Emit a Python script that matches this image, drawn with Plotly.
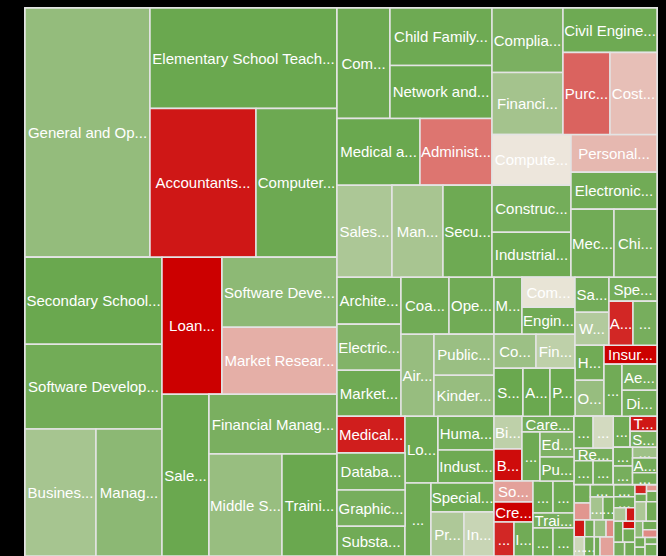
import plotly.graph_objects as go

# ---- named tiles ----
jobs = [
    "General and Operations Managers", "Elementary School Teachers", "Accountants and Auditors",
    "Computer Systems Analysts", "Secondary School Teachers", "Software Developers",
    "Business Operations Specialists", "Management Analysts", "Loan Officers",
    "Software Developers, Applications", "Market Research Analysts", "Sales Managers",
    "Financial Managers", "Middle School Teachers", "Training and Development Specialists",
    "Computer and Information Systems Managers", "Child, Family, and School Social Workers",
    "Network and Computer Systems Administrators", "Medical and Health Services Managers",
    "Administrative Services Managers", "Sales Representatives", "Managers, All Other",
    "Securities Sales Agents", "Compliance Officers", "Financial Analysts", "Civil Engineers",
    "Purchasing Agents", "Cost Estimators", "Computer Programmers", "Construction Managers",
    "Industrial Engineers", "Personal Financial Advisors", "Electronics Engineers",
    "Mechanical Engineers", "Chief Executives",
    "Architects", "Electrical Engineers", "Marketing Managers", "Coaches and Scouts",
    "Operations Research Analysts", "Airline Pilots", "Public Relations Specialists",
    "Kindergarten Teachers", "Medical Scientists", "Database Administrators", "Graphic Designers",
    "Substance Abuse Counselors", "Logisticians", "Human Resources Specialists",
    "Industrial Production Managers", "Lawyers", "Special Education Teachers",
    "Producers and Directors", "Interpreters and Translators",
    "Mathematicians", "Computer Hardware Engineers", "Engineering Managers", "Copywriters",
    "Financial Examiners", "Statisticians", "Actuaries", "Pharmacists", "Sales Engineers",
    "Web Developers", "Speech-Language Pathologists", "Auditors", "Dentists", "Health Educators",
    "Occupational Therapists", "Insurance Underwriters", "Dietitians", "Aerospace Engineers",
    "Directors, Religious Activities", "Biochemists", "Budget Analysts", "Career Counselors",
    "Epidemiologists", "Editors", "Public Health Specialists", "Social Workers", "Credit Analysts",
    "Claims Adjusters", "Information Security Analysts", "Urban Planners", "Veterinarians",
    "Training Managers", "Dental Hygienists", "Physical Therapists",
]

shown = [
    "General and Op...", "Elementary School Teach...", "Accountants...", "Computer...",
    "Secondary School...", "Software Develop...", "Busines...", "Manag...", "Loan...",
    "Software Deve...", "Market Resear...", "Sale...", "Financial Manag...", "Middle S...",
    "Traini...",
    "Com...", "Child Family...", "Network and...", "Medical a...", "Administ...", "Sales...",
    "Man...", "Secu...", "Complia...", "Financi...", "Civil Engine...", "Purc...", "Cost...",
    "Compute...", "Construc...", "Industrial...", "Personal...", "Electronic...", "Mec...", "Chi...",
    "Archite...", "Electric...", "Market...", "Coa...", "Ope...", "Air...", "Public...", "Kinder...",
    "Medical...", "Databa...", "Graphic...", "Substa...", "Lo...", "Huma...", "Indust...", "...",
    "Special...", "Pr...", "In...",
    "M...", "Com...", "Engin...", "Co...", "Fin...", "S...", "A...", "P...", "Sa...", "W...",
    "Spe...", "A...", "...", "H...", "O...", "Insur...", "...", "Ae...", "Di...",
    "Bi...", "B...", "Care...", "...", "Ed...", "Pu...", "So...", "Cre...", "...", "I...",
    "...", "...", "Trai...", "...", "...",
]

sizes = [
    31188, 18794, 15794, 12069, 11919, 11645, 9017, 8382, 8220, 8050, 7705, 7614, 7680, 7446, 5610,
    5857, 5865, 5406, 5561, 4824, 5060, 4692, 4508, 4580, 4402, 4183, 3854, 3854, 4029, 3713,
    3555, 3268, 3182, 2924, 2924,
    3008, 2944, 2944, 2736, 2565, 2706, 2460, 2460, 2516, 2516, 2448, 2040, 2211, 1904, 1848,
    1898, 1827, 1452, 1320,
    1596, 1590, 1431, 1428, 1326, 1392, 1296, 1200, 1190, 1122, 1152, 1056, 1056, 1015, 1044,
    1007, 936, 910, 910, 924, 896, 832, 882, 850, 816, 819, 780, 680, 646, 640, 672, 615, 560, 588,
]

# colour score: -1 = deep red, 0 = neutral, 1 = full green
scores = [
    0.68, 1.0, -0.9, 0.98, 1.0, 0.94, 0.54, 0.74, -1.0, 0.73, -0.24, 1.0, 0.88, 0.65, 1.0,
    0.98, 0.97, 1.0, 1.0, -0.49, 0.5, 0.53, 0.97, 0.87, 0.56, 0.97, -0.57, -0.17, 0.0, 0.92,
    0.97, -0.2, 0.95, 0.95, 0.9,
    0.95, 0.82, 0.97, 0.95, 0.95, 0.66, 0.63, 0.66, -0.87, 0.95, 0.9, 0.95, 0.97, 0.97, 0.97,
    0.97, 0.97, 0.48, 0.28,
    0.93, 0.04, 0.95, 0.62, 0.36, 1.0, 1.0, 1.0, 0.93, 0.45, 0.92, -0.83, 0.9, 0.95, 0.66,
    -1.0, 0.95, 0.9, 0.93, 0.36, -0.95, 0.92, 0.97, 0.85, 0.95, -0.3, -1.0, -0.83, 0.95,
    0.97, 0.97, 0.9, 0.97, 0.97,
]

blocks = [
    "A", "A1", "A2", "A2", "B11", "B11", "B12", "B12", "B21", "B211", "B211", "B22", "B221",
    "B2211", "B2211",
    "C11", "C111", "C111", "C121", "C121", "C122", "C1221", "C1221", "C211", "C211", "C212",
    "C2121", "C2121", "C221", "C2211", "C2211", "C222", "C222b", "C222c", "C222c",
    "D111", "D1111", "D1111", "D1121", "D1121", "D1122", "D11221", "D11221", "D121x", "D121y",
    "D121y", "D121", "D1221", "D12211", "D12211", "D1222", "D12221", "D122211", "D122211",
    "D2111", "D21111", "D21111", "D21121", "D21121", "D21122", "D211221", "D211221", "D21211",
    "D21211", "D21212", "D212121", "D212121", "D21221", "D21221", "D21222", "D212221",
    "D2122211", "D2122211", "D22111", "D22111", "D22112", "D221121", "D2211211", "D2211211",
    "D221211", "D221211", "D221212", "D221212", "D221221", "D221221", "D221222", "D2212221",
    "D2212221",
]

# ---- the many tiny tiles in the bottom-right corner ----
small_sizes = [
    608, 640, 507, 456, 480, 527, 405, 432, 361, 361, 264, 360, 288,
    300, 280, 290, 290, 250, 180, 160, 200, 190, 200, 130, 110, 260, 260, 230, 170, 120,
    110, 90, 70, 110, 220, 210, 190, 90, 160, 150, 140, 130, 120, 110, 100, 90, 80, 141,
]
small_scores = [
    0.95, 0.2, 0.9, 0.95, 0.95, 0.95, -0.9, 0.9, 0.95, 0.9, 0.6, 0.93, 0.95,
    0.95, -0.35, 0.95, 0.55, 0.95, -0.9, 0.95, 0.25, 0.95, 0.65, -0.4, 0.95, -0.3, 0.95,
    0.95, 0.5, -0.9, -0.85, 0.95, -0.35, 0.95, 0.5, 0.95, 0.95, -0.95, 0.95, 0.9, 0.95, 0.7,
    0.95, -0.4, 0.95, 0.95, 0.9, 0.95,
]
small_shown = [
    "...", "...", "Re...", "...", "...", "...", "T...", "S...", "...", "...", "...", "A...", "...",
    "", "", "...", "...", "...", "", "", "...", "...", "", "", "", "", "...", "...", "", "",
    "", "", "", "", "", "", "", "", "", "", "", "", "", "", "", "", "", "",
]
small_blocks = [
    "E111", "E111", "E11a", "E1121", "E1121", "E121", "E1211", "E1211", "E1221", "E1221",
    "E1222", "E12221", "E12221",
] + ["E2"] * 35

# unlabelled grouping blocks and their parents
block_ids = [
    "all", "L", "A", "A1", "A2", "B", "B1", "B11", "B12", "B2", "B21", "B211", "B22", "B221",
    "B2211", "R", "C", "C1", "C11", "C111", "C12", "C121", "C122", "C1221", "C2", "C21", "C211",
    "C212", "C2121", "C22", "C221", "C2211", "C222", "C222b", "C222c", "D", "D1", "D11", "D111",
    "D1111", "D112", "D1121", "D1122", "D11221", "D12", "D121", "D121x", "D121y", "D122",
    "D1221", "D12211", "D1222", "D12221", "D122211", "D2", "D21", "D211", "D2111", "D21111",
    "D2112", "D21121", "D21122", "D211221", "D212", "D2121", "D21211", "D21212", "D212121",
    "D2122", "D21221", "D21222", "D212221", "D2122211", "D22", "D221", "D2211", "D22111",
    "D22112", "D221121", "D2211211", "D2212", "D22121", "D221211", "D221212", "D22122",
    "D221221", "D221222", "D2212221", "D222",
    "E1", "E11", "E11a", "E111", "E1121", "E12", "E121", "E1211", "E122", "E1221", "E1222",
    "E12221", "E2",
]
block_parents = [
    "", "all", "L", "A", "A1", "L", "B", "B1", "B1", "B", "B2", "B21", "B2", "B22",
    "B221", "all", "R", "C", "C1", "C11", "C1", "C12", "C12", "C122", "C", "C2", "C21",
    "C21", "C212", "C2", "C22", "C221", "C22", "C222", "C222b", "R", "D", "D1", "D11",
    "D111", "D11", "D112", "D112", "D1122", "D1", "D12", "D121", "D121x", "D12",
    "D122", "D1221", "D122", "D1222", "D12221", "D", "D2", "D21", "D211", "D2111",
    "D211", "D2112", "D2112", "D21122", "D21", "D212", "D2121", "D2121", "D21212",
    "D212", "D2122", "D2122", "D21222", "D212221", "D2", "D22", "D221", "D2211",
    "D2211", "D22112", "D221121", "D221", "D2212", "D22121", "D22121", "D2212",
    "D22122", "D22122", "D221222", "D22",
    "D222", "E1", "E11", "E11a", "E11", "E1", "E12", "E121", "E12", "E122", "E122",
    "E1222", "D222",
]

# merge the two tile lists
all_jobs = jobs + [f"Other occupation {i + 1}" for i in range(len(small_sizes))]
all_shown = shown + small_shown
all_sizes = sizes + small_sizes
all_scores = scores + small_scores
all_blocks = blocks + small_blocks

# build rows in drawing order (tiles keep the order they are listed in)
children = {b: [] for b in block_ids}
for b, p in zip(block_ids, block_parents):
    if p:
        children[p].append(b)
for j, b in zip(all_jobs, all_blocks):
    children[b].append(j)
first = {j: i for i, j in enumerate(all_jobs)}


def key(n):
    if n in first:
        return first[n]
    return min(key(c) for c in children[n])


order = []


def walk(n):
    order.append(n)
    if n in children:
        for c in sorted(children[n], key=key):
            walk(c)


walk("all")

parent_of = dict(zip(block_ids, block_parents))
parent_of.update(dict(zip(all_jobs, all_blocks)))
ids, parents, values, texts, colors = [], [], [], [], []
for n in order:
    ids.append(n)
    parents.append(parent_of[n])
    if n in first:
        i = first[n]
        values.append(all_sizes[i])
        texts.append(all_shown[i])
        colors.append(all_scores[i])
    else:
        values.append(0)
        texts.append("")
        colors.append(1.0)

fig = go.Figure(go.Treemap(
    ids=ids,
    labels=ids,
    parents=parents,
    values=values,
    text=texts,
    textinfo="text",
    textposition="middle center",
    textfont=dict(family="Liberation Sans, Arial, sans-serif", size=15, color="white"),
    sort=False,
    tiling=dict(packing="binary", pad=0),
    pathbar=dict(visible=False),
    marker=dict(
        colors=colors,
        colorscale=[[0, "#cc0000"], [0.5, "#ede6dc"], [1, "#6aa84f"]],
        cmin=-1, cmax=1,
        showscale=False,
        line=dict(color="#e4e4e4", width=1.5),
        pad=dict(t=0, l=0, r=0, b=0),
    ),
    hoverinfo="label",
))

fig.update_layout(
    width=666,
    height=556,
    margin=dict(l=25, r=9, t=8, b=0),
    paper_bgcolor="black",
    plot_bgcolor="black",
    uniformtext=dict(minsize=15, mode="show"),
)

# page itself black with no body margin, like the reference; no modebar
fig.write_html(
    "out.html",
    config={"displayModeBar": False},
    post_script="document.body.style.margin='0';document.body.style.background='black';",
)
